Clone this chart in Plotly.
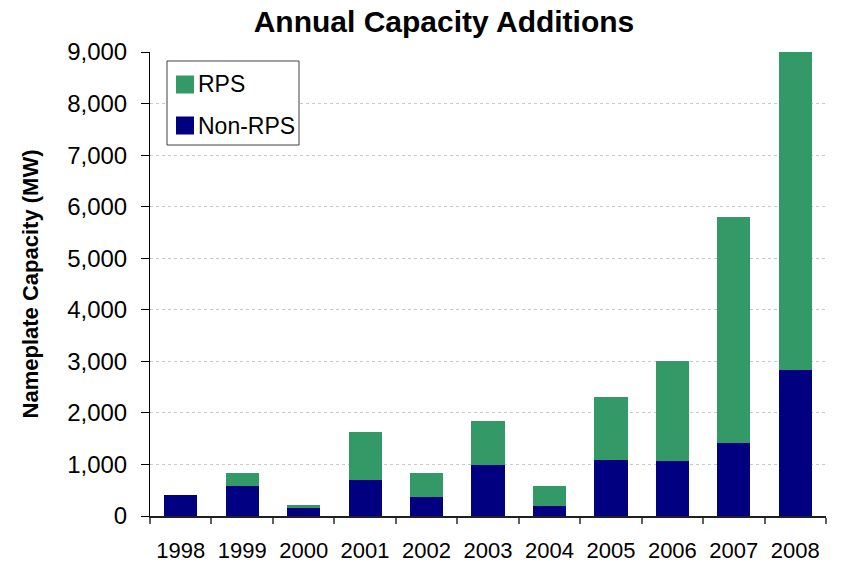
import plotly.graph_objects as go

# Annual capacity additions (MW), split by RPS status
years = ["1998", "1999", "2000", "2001", "2002", "2003",
         "2004", "2005", "2006", "2007", "2008"]
non_rps = [405, 580, 155, 700, 370, 990, 195, 1085, 1065, 1415, 2830]
totals = [405, 830, 215, 1630, 830, 1840, 580, 2305, 3000, 5790, 9030]
rps = [t - n for t, n in zip(totals, non_rps)]

series_names = ["RPS", "Non-RPS"]
series_colors = ["#339966", "#000080"]
y_ticks = [0, 1000, 2000, 3000, 4000, 5000, 6000, 7000, 8000, 9000]

W, H = 842, 564
L, R, T, B = 150, 16, 52, 48
FONT = "Liberation Sans, Arial, sans-serif"

fig = go.Figure()
fig.add_bar(x=years, y=non_rps, name=series_names[1],
            marker=dict(color=series_colors[1], line=dict(width=0)),
            showlegend=False, cliponaxis=False)
fig.add_bar(x=years, y=rps, name=series_names[0],
            marker=dict(color=series_colors[0], line=dict(width=0)),
            showlegend=False, cliponaxis=False)

# Legend box drawn in pixel units converted to paper coordinates
pw, ph = W - L - R, H - T - B


def px(x):
    return (x - L) / pw


def py(y):
    return 1 - (y - T) / ph


shapes = [dict(type="rect", xref="paper", yref="paper",
               x0=px(167), x1=px(299), y0=py(145), y1=py(61),
               line=dict(color="#404040", width=1), fillcolor="white",
               layer="above")]
annotations = []
for i, (name, col) in enumerate(zip(series_names, series_colors)):
    yc = 84.5 + i * 41
    shapes.append(dict(type="rect", xref="paper", yref="paper",
                       x0=px(176), x1=px(194), y0=py(yc + 9), y1=py(yc - 9),
                       line=dict(width=0), fillcolor=col, layer="above"))
    annotations.append(dict(x=px(196), y=py(yc), xref="paper", yref="paper",
                            text=name, showarrow=False, xanchor="left",
                            yanchor="middle",
                            font=dict(size=23, color="black", family=FONT)))

fig.update_layout(
    width=W, height=H,
    margin=dict(l=L, r=R, t=T, b=B, pad=0),
    barmode="stack", bargap=0.46,
    plot_bgcolor="white", paper_bgcolor="white",
    font=dict(family=FONT, color="black"),
    title=dict(text="<b>Annual Capacity Additions</b>", x=444 / W,
               xanchor="center", y=1 - 21 / H, yanchor="middle",
               font=dict(size=30, family=FONT, color="black")),
    shapes=shapes, annotations=annotations,
    showlegend=False,
)
fig.update_xaxes(
    type="category", showline=True, linecolor="#202020", linewidth=1.5,
    ticks="outside", tickson="boundaries", ticklen=6, tickcolor="#606060",
    tickwidth=1.5, showgrid=False, automargin=False,
    tickfont=dict(size=22, family=FONT, color="black"),
    ticklabelstandoff=14,
)
fig.update_yaxes(
    range=[0, 9000], tickvals=y_ticks,
    ticktext=[f"{v:,}" for v in y_ticks],
    showline=True, linecolor="black", linewidth=1,
    ticks="outside", ticklen=8, tickcolor="black",
    showgrid=True, gridcolor="#c8c8c8", griddash="dot", gridwidth=1,
    zeroline=False, automargin=False,
    tickfont=dict(size=24, family=FONT, color="black"),
    ticklabelstandoff=9,
    title=dict(text="<b>Nameplate Capacity (MW)</b>", standoff=22,
               font=dict(size=22, family=FONT, color="black")),
)

fig.write_html("out.html")
